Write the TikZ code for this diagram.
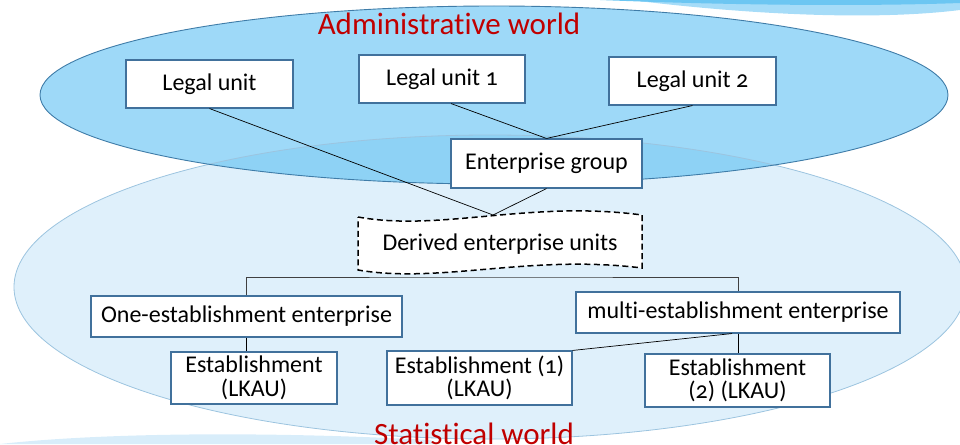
\documentclass[tikz,border=0pt]{standalone}
\usepackage{fontspec}
\setmainfont[Numbers=OldStyle, Ligatures=NoCommon]{Carlito}
\definecolor{admfill}{HTML}{9ED9F8}
\definecolor{admline}{HTML}{3F7CA8}
\definecolor{statfill}{HTML}{DFF0FB}
\definecolor{statline}{HTML}{9CC4DF}
\definecolor{overfill}{HTML}{8ED2F5}
\definecolor{boxblue}{HTML}{41719C}
\definecolor{titlered}{HTML}{C00000}
\definecolor{swdark}{HTML}{6CC6F2}
\definecolor{swlight}{HTML}{A6DCF8}
\definecolor{swbottom}{HTML}{D8EDFA}
\begin{document}
\begin{tikzpicture}[x=1pt,y=-1pt,
  box/.style={draw=boxblue, line width=1.1pt, fill=white, inner sep=0pt, align=center,
    font=\fontsize{24}{23.5}\selectfont},
  conn/.style={draw=black, line width=0.7pt},
  title/.style={text=titlered, font=\fontsize{31}{32}\selectfont, inner sep=0pt, anchor=base}]
\useasboundingbox (0,0) rectangle (960,444);
% background swooshes
\fill[swlight] (630,0) .. controls (760,16) and (880,20) .. (960,10) -- (960,0) -- cycle;
\fill[swdark] (600,0) .. controls (750,6) and (880,6) .. (960,3) -- (960,0) -- cycle;
\fill[swbottom] (0,444) .. controls (100,433) and (260,431) .. (430,440) -- (440,444) -- cycle;
% ellipses
\fill[statfill] (490,287) ellipse [x radius=476pt, y radius=152pt];
\fill[admfill] (494,95) ellipse [x radius=454pt, y radius=89pt];
\begin{scope}
  \clip (494,95) ellipse [x radius=454pt, y radius=89pt];
  \fill[overfill] (490,287) ellipse [x radius=476pt, y radius=152pt];
\end{scope}
\draw[statline, line width=0.8pt] (490,287) ellipse [x radius=476pt, y radius=152pt];
\draw[admline, line width=0.9pt] (494,95) ellipse [x radius=454pt, y radius=89pt];
% titles
\node[title] (admt) at (449,35) {Administrative world};
\node[title] (statt) at (474,444) {Statistical world};
% boxes
\node[box, minimum width=167pt, minimum height=48pt] (lu) at (209.5,84) {Legal unit};
\node[box, minimum width=166pt, minimum height=48pt] (lu1) at (442,79) {Legal unit 1};
\node[box, minimum width=167pt, minimum height=48pt] (lu2) at (692.5,81) {Legal unit 2};
\node[box, minimum width=191pt, minimum height=49pt] (eg) at (546.5,163.5) {Enterprise group};
% derived enterprise units (tape shape)
\draw[fill=white, line width=1.5pt, dash pattern=on 6pt off 3.5pt]
  (358,217) .. controls (440,232) and (530,200) .. (642,215)
  -- (642,268) .. controls (530,254) and (440,284) .. (358,270) -- cycle;
\node[inner sep=0pt, font=\fontsize{24}{24}\selectfont] (der) at (500,244) {Derived enterprise units};
\coordinate (dtop) at (493,215);
\coordinate (bar) at (490,277);
\node[box, minimum width=311pt, minimum height=41pt] (one) at (246.5,316.5) {One-establishment enterprise};
\node[box, minimum width=324pt, minimum height=41pt] (multi) at (738,312.5) {multi-establishment enterprise};
\node[box, minimum width=166pt, minimum height=52pt] (e0) at (254,378) {Establishment\\(LKAU)};
\node[box, minimum width=185pt, minimum height=54pt] (e1) at (479.5,378) {Establishment (1)\\(LKAU)};
\node[box, minimum width=185pt, minimum height=53pt] (e2) at (737.5,380.5) {Establishment\\(2) (LKAU)};
% connectors
\draw[conn] (lu.south) -- (dtop);
\draw[conn] ([xshift=9pt]lu1.south) -- (eg.north);
\draw[conn] (lu2.south) -- (eg.north);
\draw[conn] (eg.south) -- (dtop);
\draw[conn, draw=black!75, line width=0.9pt] (one.north) |- (bar) -| (multi.north);
\draw[conn] (one.south) -- (one.south |- e0.north);
\draw[conn] (multi.south) -- (multi.south |- e2.north);
\draw[conn] ([xshift=-6pt]multi.south) -- (e1.north east);
\end{tikzpicture}
\end{document}
